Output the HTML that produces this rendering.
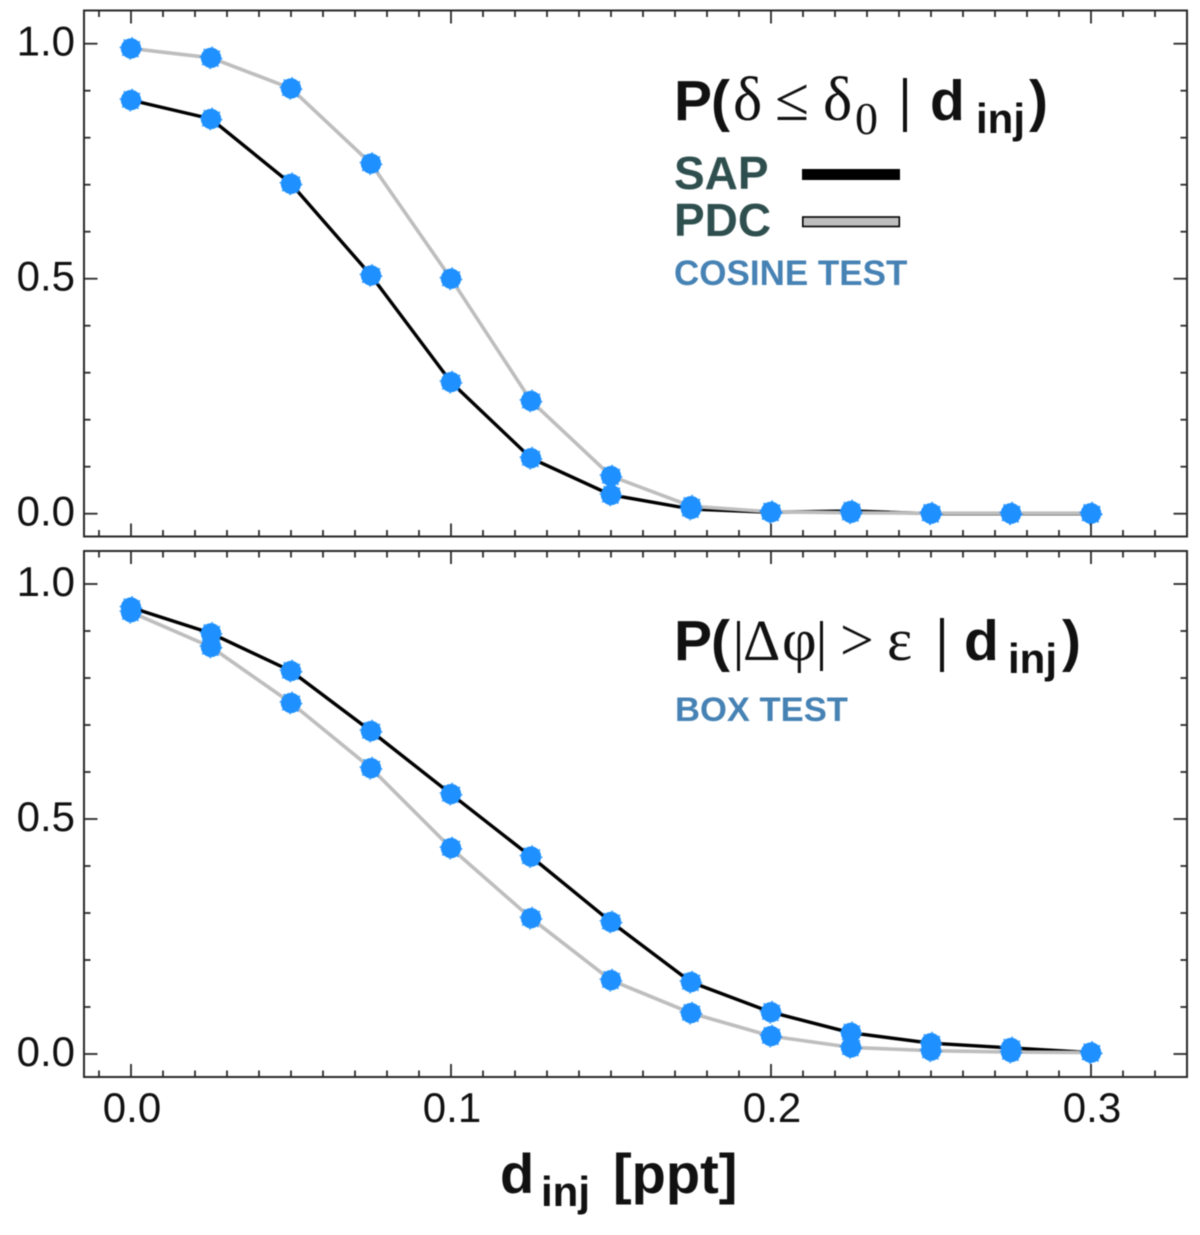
<!DOCTYPE html>
<html>
<head>
<meta charset="utf-8">
<title>Detection probability vs injected depth</title>
<style>
html,body{margin:0;padding:0;background:#fff;width:1200px;height:1235px;overflow:hidden}
svg{display:block;filter:blur(0.55px)}
text{font-family:"Liberation Sans",sans-serif;fill:#111}
.b{font-weight:bold}
.s{font-family:"Liberation Serif",serif}
</style>
</head>
<body>
<svg id="chart" xmlns="http://www.w3.org/2000/svg" width="1200" height="1235" viewBox="0 0 1200 1235">
  <rect width="1200" height="1235" fill="#fff"/>
  <g id="top-series"></g>
  <g id="bottom-series"></g>
  <g id="axes"></g>

  <g>
    <text class="b" x="674" y="120" font-size="57">P</text>
    <text class="b" x="711" y="120" font-size="57">(</text>
    <text class="s" x="733" y="120" font-size="62">δ</text>
    <text class="s" x="775" y="120" font-size="62">≤</text>
    <text class="s" x="823" y="120" font-size="62">δ</text>
    <text class="s" x="855" y="134" font-size="46">0</text>
    <rect x="903" y="78" width="4" height="54" fill="#111"/>
    <text class="b" x="930" y="120" font-size="57">d</text>
    <text class="b" x="976" y="133" font-size="42">inj</text>
    <text class="b" x="1029" y="120" font-size="57">)</text>
  </g>

  <g>
    <text class="b" x="674" y="189" font-size="46" style="fill:#2f4f4f">SAP</text>
    <rect x="802" y="169" width="98" height="11" fill="#000"/>
    <text class="b" x="674" y="236" font-size="46" style="fill:#2f4f4f">PDC</text>
    <rect x="802.8" y="217" width="96.5" height="9.5" fill="#bebebe" stroke="#000" stroke-width="1.6"/>
    <text class="b" x="674" y="285" font-size="35" style="fill:#4682b4">COSINE TEST</text>
  </g>

  <g>
    <text class="b" x="674" y="660" font-size="57">P</text>
    <text class="b" x="711" y="660" font-size="57">(</text>
    <rect x="737" y="621" width="3" height="50" fill="#111"/>
    <text class="s" x="743" y="660" font-size="58">Δ</text>
    <text class="s" x="782" y="660" font-size="60">φ</text>
    <rect x="820" y="621" width="3" height="50" fill="#111"/>
    <text class="s" x="840" y="660" font-size="60">&gt;</text>
    <text class="s" x="887" y="660" font-size="60">ε</text>
    <rect x="940" y="618" width="4" height="54" fill="#111"/>
    <text class="b" x="964" y="660" font-size="57">d</text>
    <text class="b" x="1008" y="673" font-size="42">inj</text>
    <text class="b" x="1062" y="660" font-size="57">)</text>
  </g>
  <text class="b" x="675" y="721" font-size="34.6" style="fill:#4682b4">BOX TEST</text>

  <g>
    <text class="b" x="500" y="1193" font-size="56">d</text>
    <text class="b" x="541" y="1206" font-size="42">inj</text>
    <text class="b" x="613" y="1193" font-size="56">[ppt]</text>
  </g>
</svg>
<script>
const depths = [0, 0.025, 0.05, 0.075, 0.1, 0.125, 0.15, 0.175, 0.2, 0.225, 0.25, 0.275, 0.3];
const cosineSap = [0.88, 0.84, 0.702, 0.507, 0.28, 0.118, 0.04, 0.01, 0.003, 0.006, 0, 0, 0];
const cosinePdc = [0.99, 0.97, 0.905, 0.745, 0.5, 0.24, 0.08, 0.016, 0.004, 0.002, 0.001, 0.001, 0.001];
const boxSap = [0.95, 0.895, 0.815, 0.687, 0.553, 0.42, 0.281, 0.153, 0.089, 0.045, 0.023, 0.013, 0.003];
const boxPdc = [0.94, 0.866, 0.747, 0.608, 0.438, 0.289, 0.157, 0.087, 0.038, 0.014, 0.007, 0.004, 0.003];
const yTickLabels = ["0.0", "0.5", "1.0"];
const xTickLabels = ["0.0", "0.1", "0.2", "0.3"];

const SVGNS = "http://www.w3.org/2000/svg";
const FRAME_LEFT = 84, FRAME_RIGHT = 1187;
const sx = v => 131 + v * 3200;
const topY = v => 513.7 - v * 470;
const botY = v => 1054 - v * 470;

function mk(tag, parent, attrs) {
  const el = document.createElementNS(SVGNS, tag);
  for (const k in attrs) el.setAttribute(k, attrs[k]);
  parent.appendChild(el);
  return el;
}

function drawSeries(group, values, yf, color, width, name) {
  const pts = depths.map((d, i) => sx(d).toFixed(1) + "," + yf(values[i]).toFixed(1)).join(" ");
  const line = mk("polyline", group, {points: pts, fill: "none", stroke: color, "stroke-width": width, "stroke-linejoin": "round"});
  
  
}

function drawMarkers(group, values, yf, name) {
  depths.forEach((d, i) => {
    const dot = mk("circle", group, {cx: sx(d).toFixed(1), cy: yf(values[i]).toFixed(1), r: 10.2, fill: "#1e90ff"});
    
    
    const rim = mk("circle", group, {cx: sx(d).toFixed(1), cy: yf(values[i]).toFixed(1), r: 10.8, fill: "none", stroke: "#1e90ff", "stroke-width": 1.2, "stroke-dasharray": "1.6 6.9"});
    
    
  });
}

const topSeries = document.getElementById("top-series");
const botSeries = document.getElementById("bottom-series");
drawSeries(topSeries, cosineSap, topY, "#000", 3.4, "cosine-sap");
drawSeries(topSeries, cosinePdc, topY, "#bebebe", 3.6, "cosine-pdc");
drawMarkers(topSeries, cosineSap, topY, "cosine-sap");
drawMarkers(topSeries, cosinePdc, topY, "cosine-pdc");
drawSeries(botSeries, boxSap, botY, "#000", 3.4, "box-sap");
drawSeries(botSeries, boxPdc, botY, "#bebebe", 3.6, "box-pdc");
drawMarkers(botSeries, boxSap, botY, "box-sap");
drawMarkers(botSeries, boxPdc, botY, "box-pdc");

const axes = document.getElementById("axes");
const AXIS = "#2a2a2a";

function tick(x1, y1, x2, y2, name) {
  const t = mk("line", axes, {x1: x1, y1: y1, x2: x2, y2: y2, stroke: AXIS, "stroke-width": 1.8});
  
  
}

function drawPanel(yTopEdge, yBotEdge, yf, name) {
  const frame = mk("rect", axes, {x: FRAME_LEFT, y: yTopEdge, width: FRAME_RIGHT - FRAME_LEFT, height: yBotEdge - yTopEdge, fill: "none", stroke: AXIS, "stroke-width": 2});
  
  
  for (let i = -1; i <= 33; i++) {
    const px = sx(i / 100);
    const len = i % 10 === 0 ? 13 : 6.5;
    tick(px, yBotEdge, px, yBotEdge - len, name + '-x-tick-bottom');
    tick(px, yTopEdge, px, yTopEdge + len, name + '-x-tick-top');
  }
  for (let i = 0; i <= 10; i++) {
    const py = yf(i / 10);
    const len = i % 5 === 0 ? 13.5 : 6.5;
    tick(FRAME_LEFT, py, FRAME_LEFT + len, py, name + '-y-tick-left');
    tick(FRAME_RIGHT, py, FRAME_RIGHT - len, py, name + '-y-tick-right');
  }
  yTickLabels.forEach(lab => {
    const t = mk("text", axes, {x: 75, y: yf(parseFloat(lab)) + 12, "font-size": 42, "text-anchor": "end"});
    t.textContent = lab;
    
    
  });
}

drawPanel(10.5, 536.5, topY, "cosine-panel");
drawPanel(551, 1077, botY, "box-panel");

xTickLabels.forEach(lab => {
  const t = mk("text", axes, {x: sx(parseFloat(lab)) + 1, y: 1122, "font-size": 42, "text-anchor": "middle"});
  t.textContent = lab;
  
  
});
</script>
</body>
</html>
